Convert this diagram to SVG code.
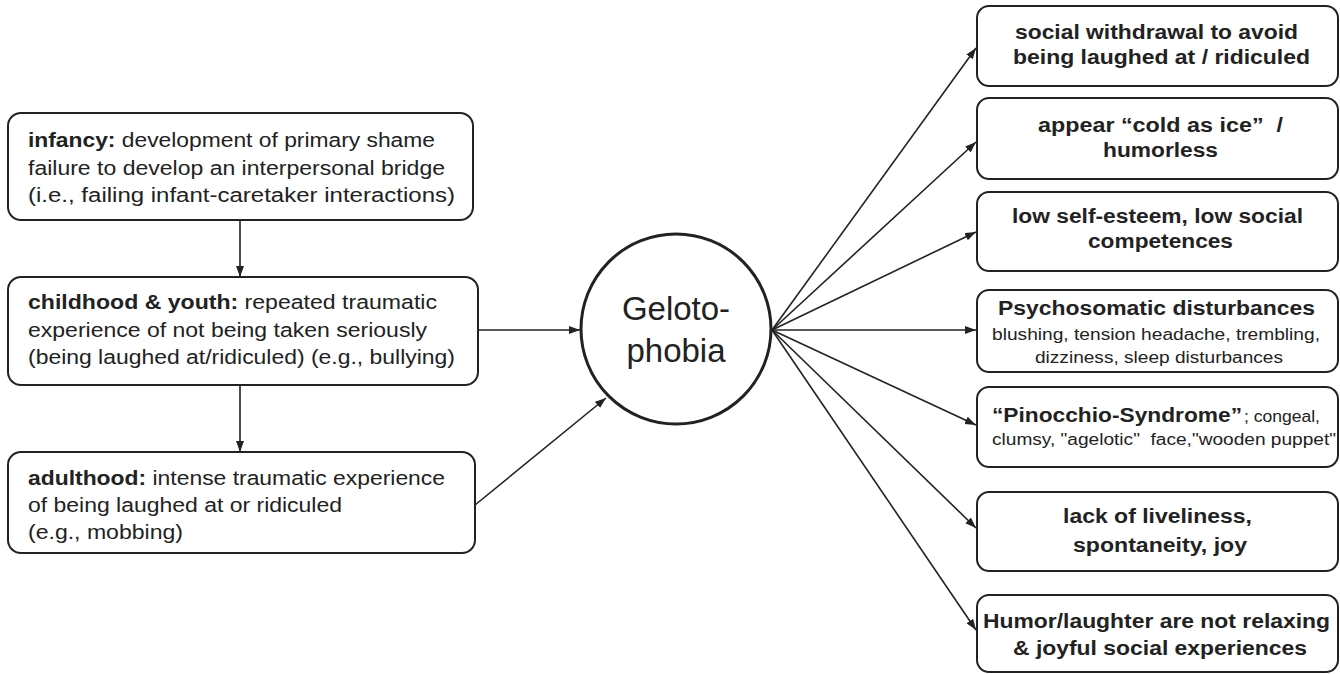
<svg xmlns="http://www.w3.org/2000/svg" width="1340" height="674" viewBox="0 0 1340 674">
<style>
text{font-family:"Liberation Sans",Arial,sans-serif;fill:#222}
.box{fill:#fff;stroke:#222;stroke-width:2}
.l{font-size:20px}
.r{font-size:20px;font-weight:bold}
.s{font-size:16px;font-weight:normal}
.b{font-weight:bold}
.con line{stroke:#222;stroke-width:1.6;marker-end:url(#ah)}
</style>
<defs>
<marker id="ah" markerUnits="userSpaceOnUse" markerWidth="12" markerHeight="10" refX="11" refY="4" orient="auto">
<path d="M0,0 L11,4 L0,8 Z" fill="#222"/>
</marker>
</defs>
<rect width="1340" height="674" fill="#fff"/>
<g class="con">
<line x1="240" y1="220" x2="240" y2="277"/>
<line x1="240" y1="385" x2="240" y2="452"/>
<line x1="478" y1="330" x2="580" y2="330"/>
<line x1="475" y1="505" x2="606" y2="398"/>
<line x1="772" y1="330" x2="976" y2="48"/>
<line x1="772" y1="330" x2="976" y2="142"/>
<line x1="772" y1="330" x2="976" y2="232"/>
<line x1="772" y1="330" x2="976" y2="330"/>
<line x1="772" y1="330" x2="976" y2="425"/>
<line x1="772" y1="330" x2="976" y2="528"/>
<line x1="772" y1="330" x2="976" y2="630"/>
</g>
<g id="infancy">
<rect class="box" x="8" y="113" width="465" height="107" rx="13"/>
<text class="l" x="28" y="147" textLength="407" lengthAdjust="spacingAndGlyphs"><tspan class="b">infancy:</tspan> development of primary shame</text>
<text class="l" x="28" y="175" textLength="417" lengthAdjust="spacingAndGlyphs">failure to develop an interpersonal bridge</text>
<text class="l" x="28" y="202" textLength="427" lengthAdjust="spacingAndGlyphs">(i.e., failing infant-caretaker interactions)</text>
</g>
<g id="childhood">
<rect class="box" x="8" y="277" width="470" height="108" rx="13"/>
<text class="l" x="28" y="309" textLength="409" lengthAdjust="spacingAndGlyphs"><tspan class="b">childhood &amp; youth:</tspan> repeated traumatic</text>
<text class="l" x="28" y="337" textLength="399" lengthAdjust="spacingAndGlyphs">experience of not being taken seriously</text>
<text class="l" x="28" y="364" textLength="427" lengthAdjust="spacingAndGlyphs">(being laughed at/ridiculed) (e.g., bullying)</text>
</g>
<g id="adulthood">
<rect class="box" x="8" y="452" width="467" height="101" rx="13"/>
<text class="l" x="28" y="485" textLength="417" lengthAdjust="spacingAndGlyphs"><tspan class="b">adulthood:</tspan> intense traumatic experience</text>
<text class="l" x="28" y="512" textLength="314" lengthAdjust="spacingAndGlyphs">of being laughed at or ridiculed</text>
<text class="l" x="28" y="539" textLength="155" lengthAdjust="spacingAndGlyphs">(e.g., mobbing)</text>
</g>
<g id="gelotophobia">
<circle cx="676" cy="329" r="95" fill="#fff" stroke="#222" stroke-width="3"/>
<text x="676" y="320" font-size="33" text-anchor="middle">Geloto-</text>
<text x="676" y="362" font-size="33" text-anchor="middle">phobia</text>
</g>
<g id="withdrawal">
<rect class="box" x="977" y="6" width="361" height="80" rx="12"/>
<text class="r" x="1015" y="39" textLength="283" lengthAdjust="spacingAndGlyphs">social withdrawal to avoid</text>
<text class="r" x="1013" y="64" textLength="297" lengthAdjust="spacingAndGlyphs">being laughed at / ridiculed</text>
</g>
<g id="cold">
<rect class="box" x="977" y="98" width="361" height="81" rx="12"/>
<text class="r" x="1038" y="132" textLength="245" lengthAdjust="spacingAndGlyphs" xml:space="preserve">appear “cold as ice”  /</text>
<text class="r" x="1103" y="157" textLength="115" lengthAdjust="spacingAndGlyphs">humorless</text>
</g>
<g id="selfesteem">
<rect class="box" x="977" y="192" width="361" height="79" rx="12"/>
<text class="r" x="1012" y="223" textLength="291" lengthAdjust="spacingAndGlyphs">low self-esteem, low social</text>
<text class="r" x="1088" y="248" textLength="145" lengthAdjust="spacingAndGlyphs">competences</text>
</g>
<g id="psychosomatic">
<rect class="box" x="977" y="290" width="361" height="82" rx="12"/>
<text class="r" x="998" y="315" font-size="21" textLength="317" lengthAdjust="spacingAndGlyphs">Psychosomatic disturbances</text>
<text class="s" x="992" y="340" textLength="328" lengthAdjust="spacingAndGlyphs">blushing, tension headache, trembling,</text>
<text class="s" x="1035" y="363" textLength="248" lengthAdjust="spacingAndGlyphs">dizziness, sleep disturbances</text>
</g>
<g id="pinocchio">
<rect class="box" x="977" y="387" width="361" height="80" rx="12"/>
<text y="422"><tspan x="992" font-size="21" font-weight="bold" textLength="250" lengthAdjust="spacingAndGlyphs">“Pinocchio-Syndrome”</tspan><tspan x="1244" font-size="16" textLength="76" lengthAdjust="spacingAndGlyphs">; congeal,</tspan></text>
<text x="992" y="445" font-size="16" xml:space="preserve" textLength="344" lengthAdjust="spacingAndGlyphs">clumsy, "agelotic"  face,"wooden puppet"</text>
</g>
<g id="liveliness">
<rect class="box" x="977" y="492" width="361" height="79" rx="12"/>
<text class="r" x="1063" y="523" textLength="189" lengthAdjust="spacingAndGlyphs">lack of liveliness,</text>
<text class="r" x="1073" y="552" textLength="174" lengthAdjust="spacingAndGlyphs">spontaneity, joy</text>
</g>
<g id="humor">
<rect class="box" x="977" y="595" width="361" height="77" rx="12"/>
<text class="r" x="983" y="628" textLength="347" lengthAdjust="spacingAndGlyphs">Humor/laughter are not relaxing</text>
<text class="r" x="1013" y="655" textLength="294" lengthAdjust="spacingAndGlyphs">&amp; joyful social experiences</text>
</g>
</svg>
